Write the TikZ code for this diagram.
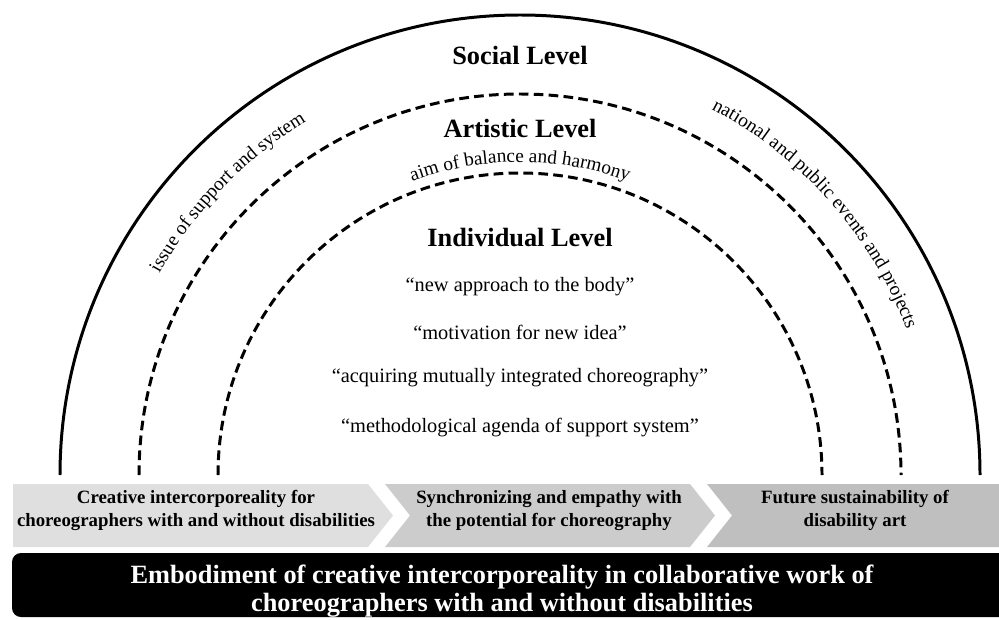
\documentclass[tikz,border=0pt]{standalone}
\usepackage{fontspec}
\setmainfont{Liberation Serif}
\usetikzlibrary{decorations.text}
\tikzset{
  lvl/.style={font=\fontsize{15}{18}\selectfont\bfseries},
  quot/.style={font=\fontsize{11.6}{14}\selectfont},
  chev/.style={font=\fontsize{10.7}{13.5}\selectfont\bfseries,align=center},
  ring/.style={line width=1.7pt},
  dring/.style={line width=1.7pt,dash pattern=on 5.5pt off 3pt},
  arctext/.style={decorate,decoration={text along path,text align=center,text={|\fontsize{11}{13}\selectfont|#1}}},
}
\begin{document}
\begin{tikzpicture}[x=0.02cm,y=0.02cm]
\useasboundingbox (0,0) rectangle (999,619);
\pgfmathsetmacro{\kcx}{520}
\pgfmathsetmacro{\kcy}{144}
\coordinate (c) at (\kcx,\kcy);
% levels
\draw[ring,shift={(c)}] (180:460) arc[start angle=180,end angle=0,radius=460];
\foreach \kr in {381,302}{\draw[dring,shift={(c)}] (180:\kr) arc[start angle=180,end angle=0,radius=\kr];}
\path[arctext={issue of support and system},shift={(c)}] (166:413) arc[start angle=166,end angle=106,radius=413];
\path[arctext={national and public events and projects},shift={(c)}] (75:413) arc[start angle=75,end angle=8,radius=413];
\path[arctext={aim of balance and harmony},shift={(c)}] (125:313) arc[start angle=125,end angle=55,radius=313];
\node[lvl] (soc) at (520,564) {Social Level};
\node[lvl] (art) at (520,491) {Artistic Level};
\node[lvl] (ind) at (520,381) {Individual Level};
\foreach \ky/\qlb [count=\ki] in {332/{new approach to the body},287/{motivation for new idea},241/{acquiring mutually integrated choreography},191/{methodological agenda of support system}}{\node[quot] (q\ki) at (520,\ky) {``\qlb''};}
% chevrons
\fill[gray!25] (13,135) -- (368,135) -- (393,103.5) -- (368,72) -- (13,72) -- cycle;
\fill[gray!40] (385,135) -- (690,135) -- (715,103.5) -- (690,72) -- (385,72) -- (410,103.5) -- cycle;
\fill[gray!50] (707,135) -- (999,135) -- (999,72) -- (707,72) -- (732,103.5) -- cycle;
\node[chev] (f1) at (196,108.5) {Creative intercorporeality for\\choreographers with and without disabilities};
\node[chev] (f2) at (549,108.5) {Synchronizing and empathy with\\the potential for choreography};
\node[chev] (f3) at (855,108.5) {Future sustainability of\\disability art};
% base
\fill (999,66) {[rounded corners=0.18cm] -- (12,66) -- (12,2)} -- (999,2) -- cycle;
\node[font=\fontsize{15}{16}\selectfont\bfseries,text=white,align=center] (base) at (502,28) {Embodiment of creative intercorporeality in collaborative work of\\choreographers with and without disabilities};
\end{tikzpicture}
\end{document}
